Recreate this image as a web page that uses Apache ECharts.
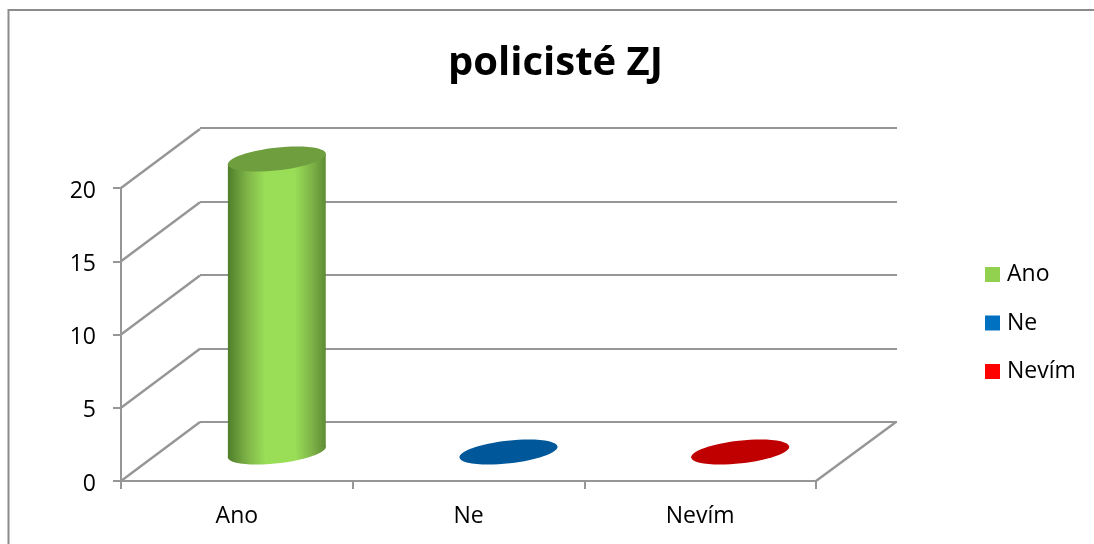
<!DOCTYPE html>
<html>
<head>
<meta charset="utf-8">
<style>html,body{margin:0;padding:0;background:#fff}#c{width:1094px;height:544px}</style>
<script src="https://cdn.jsdelivr.net/npm/echarts@6/dist/echarts.min.js"></script>
</head>
<body>
<div id="c"></div>
<script>
const titleText = 'policisté ZJ';
const categories = ['Ano', 'Ne', 'Nevím'];
const seriesNames = ['Ano', 'Ne', 'Nevím'];
const seriesValues = [20, 0, 0];
const legendColors = ['#92d050', '#0070c0', '#ff0000'];
const capColors = ['#6f9e3e', '#00589b', '#c00000'];
const sideDark = '#4f7d2a';
const sideMid = '#7fb548';
const sideLight = '#9ade58';
const sideRightDark = '#5f8c35';
const yTicks = [0, 5, 10, 15, 20];
const depth = [79, -59];
const gridColor = '#969696';
const font = '"Open Sans"';

const chart = echarts.init(document.getElementById('c'), null, {renderer: 'canvas'});

function renderWalls(params, api) {
  const v = api.value(0);
  const p = api.coord([categories[0], v]);
  const w = api.size([1, 0])[0];
  const x = p[0] - w / 2;
  const children = [{
    type: 'line',
    shape: {x1: x, y1: p[1], x2: x + depth[0], y2: p[1] + depth[1]},
    style: {stroke: gridColor, lineWidth: 2.4}
  }];
  if (v === 0) {
    const xr = x + w * categories.length;
    children.push({
      type: 'line',
      shape: {x1: xr, y1: p[1], x2: xr + depth[0] + 1, y2: p[1] + depth[1]},
      style: {stroke: gridColor, lineWidth: 2.4}
    });
  }
  return {type: 'group', children};
}

function renderCylinder(index) {
  return function (params, api) {
    const base = api.coord([api.value(0), 0]);
    const top = api.coord([api.value(0), api.value(1)]);
    const w = api.size([1, 0])[0] * 0.4225;
    const cx = base[0] + depth[0] / 2 + 0.5;
    const by = base[1] + depth[1] / 2 + 0.5;
    const ty = top[1] + depth[1] / 2 + 0.5;
    const rx = w / 2 + 0.4, ry = 11.4, tilt = 6.4 * Math.PI / 180;
    const dy = 5;
    const cap = {
      type: 'ellipse',
      shape: {cx: 0, cy: 0, rx, ry},
      x: cx, y: ty, rotation: tilt,
      style: {fill: capColors[index]}
    };
    if (api.value(1) === 0) return cap;
    const grad = () => new echarts.graphic.LinearGradient(0, 0, 1, 0, [
      {offset: 0, color: sideDark},
      {offset: 0.2, color: sideMid},
      {offset: 0.38, color: sideLight},
      {offset: 0.68, color: sideLight},
      {offset: 0.85, color: sideMid},
      {offset: 1, color: sideRightDark}
    ]);
    return {
      type: 'group',
      children: [
        {type: 'ellipse', shape: {cx: 0, cy: 0, rx, ry}, x: cx, y: by, rotation: tilt, style: {fill: grad()}},
        {type: 'polygon', shape: {points: [
          [cx - w / 2, ty + dy], [cx + w / 2, ty - dy],
          [cx + w / 2, by - dy], [cx - w / 2, by + dy]
        ]}, style: {fill: grad()}},
        cap
      ]
    };
  };
}

const axisLine = {show: true, lineStyle: {color: gridColor, width: 2}};
const axisTick = {show: true, length: 8, lineStyle: {color: gridColor, width: 2}};
const labelStyle = {color: '#000', fontFamily: font, fontSize: 23};

chart.setOption({
  animation: false,
  backgroundColor: '#fff',
  title: {
    text: titleText, left: 555.5, top: 39, textAlign: 'center',
    textStyle: {color: '#000', fontFamily: font, fontWeight: 'bold', fontSize: 40}
  },
  graphic: [{
    type: 'polyline',
    shape: {points: [[8.5, 544], [8.5, 10], [1094, 10]]},
    style: {fill: 'none', stroke: '#8c8c8c', lineWidth: 2}
  }],
  legend: {
    orient: 'vertical', left: 980, top: 258, itemWidth: 15, itemHeight: 15, itemGap: 25.5,
    icon: 'rect', data: seriesNames, selectedMode: false,
    textStyle: {color: '#000', fontFamily: font, fontSize: 23, padding: [0, 0, 0, 2]}
  },
  grid: [
    {left: 121, top: 188, width: 695, height: 293},
    {left: 200, top: 128, width: 697, height: 294},
    {left: 121, top: 191, width: 695, height: 293}
  ],
  xAxis: [
    {type: 'category', gridIndex: 0, data: categories, boundaryGap: true, axisLine, axisTick,
     axisLabel: Object.assign({margin: 24}, labelStyle), splitLine: {show: false}},
    {type: 'category', gridIndex: 1, data: categories, show: false},
    {type: 'category', gridIndex: 2, data: categories, show: false}
  ],
  yAxis: [
    {type: 'value', gridIndex: 0, min: 0, max: 20, interval: 5, axisLine, axisTick,
     axisLabel: {show: false}, splitLine: {show: false}},
    {type: 'value', gridIndex: 1, min: 0, max: 20, interval: 5,
     axisLine: {show: false}, axisTick: {show: false}, axisLabel: {show: false},
     splitLine: {show: true, lineStyle: {color: gridColor, width: 2}}},
    {type: 'value', gridIndex: 2, min: 0, max: 20, interval: 5,
     axisLine: {show: false}, axisTick: {show: false}, splitLine: {show: false},
     axisLabel: Object.assign({margin: 25}, labelStyle)}
  ],
  series: [
    {type: 'custom', name: '__walls', xAxisIndex: 0, yAxisIndex: 0, silent: true, z: 1,
     encode: {y: 0}, data: yTicks.map(v => [v]), renderItem: renderWalls, legendHoverLink: false}
  ].concat(seriesNames.map((name, i) => ({
    type: 'custom', name, xAxisIndex: 0, yAxisIndex: 0, z: 3,
    itemStyle: {color: legendColors[i]},
    encode: {x: 0, y: 1},
    data: [[i, seriesValues[i]]],
    renderItem: renderCylinder(i)
  })))
});
chart.setOption({title: {left: 550.5}});
</script>
</body>
</html>
